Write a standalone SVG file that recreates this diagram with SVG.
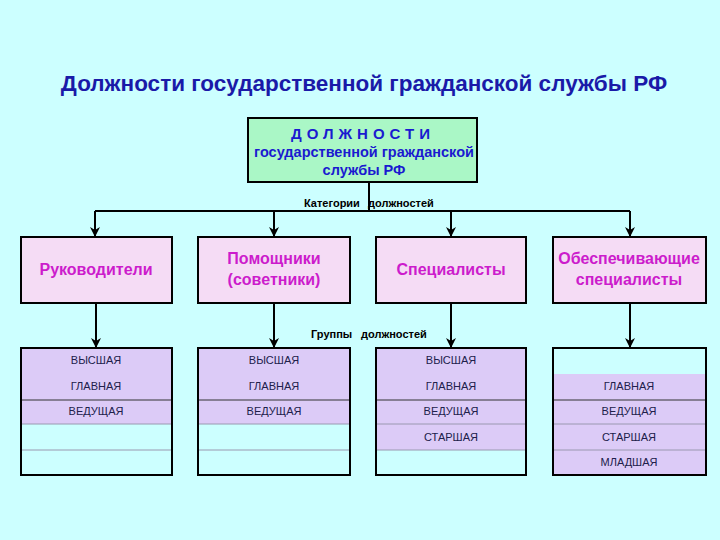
<svg xmlns="http://www.w3.org/2000/svg" width="720" height="540" viewBox="0 0 720 540">
<defs>
<marker id="arr" markerWidth="10" markerHeight="10" refX="9" refY="5" orient="auto" markerUnits="userSpaceOnUse">
<path d="M0,0 L10,5 L0,10 L3,5 Z" fill="#000"/>
</marker>
<style>
.title{font-family:"Liberation Sans",Arial,sans-serif;font-weight:bold;font-size:22.5px;fill:#1a1aa8;text-anchor:middle}
.top{font-family:"Liberation Sans",Arial,sans-serif;font-weight:bold;fill:#1a1ad0;text-anchor:middle}
.cat{fill:#f5dcf5;stroke:#000;stroke-width:2}
.cattxt{font-family:"Liberation Sans",Arial,sans-serif;font-weight:bold;font-size:16px;fill:#cc1ccc;text-anchor:middle}
.lbl{font-family:"Liberation Sans",Arial,sans-serif;font-weight:bold;font-size:11px;fill:#000}
.grp{font-family:"Liberation Sans",Arial,sans-serif;font-size:11px;fill:#20204a;text-anchor:middle}
.lav{fill:#dccbf7}
.sep{stroke:#9a98b0;stroke-width:1}
.sepd{stroke:#333;stroke-width:1}
.frame{fill:none;stroke:#000;stroke-width:2}
.conn{stroke:#000;stroke-width:2;fill:none}
</style>
</defs>
<rect width="720" height="540" fill="#ccffff"/>
<text class="title" x="364" y="91">Должности государственной гражданской службы РФ</text>

<g id="root">
<rect x="248" y="118" width="229" height="64" fill="#aaf7c6" stroke="#000" stroke-width="2"/>
<text class="top" x="363" y="139" font-size="15" letter-spacing="5">ДОЛЖНОСТИ</text>
<text class="top" x="364" y="157" font-size="14.5">государственной гражданской</text>
<text class="top" x="364" y="175" font-size="14.5">службы РФ</text>
</g>

<g id="connectors">
<path class="conn" d="M369,182 V211"/>
<path class="conn" d="M95,211 H630"/>
<path class="conn" d="M95,211 V236" marker-end="url(#arr)"/>
<path class="conn" d="M274,211 V236" marker-end="url(#arr)"/>
<path class="conn" d="M451,211 V236" marker-end="url(#arr)"/>
<path class="conn" d="M630,211 V236" marker-end="url(#arr)"/>
<path class="conn" d="M96,303 V347" marker-end="url(#arr)"/>
<path class="conn" d="M274,303 V347" marker-end="url(#arr)"/>
<path class="conn" d="M451,303 V347" marker-end="url(#arr)"/>
<path class="conn" d="M630,303 V347" marker-end="url(#arr)"/>
<text class="lbl" x="304" y="207">Категории</text>
<text class="lbl" x="368" y="207">должностей</text>
<text class="lbl" x="311" y="338">Группы</text>
<text class="lbl" x="361" y="338">должностей</text>
</g>

<g id="cat1"><rect class="cat" x="21" y="237" width="151" height="66"/><text class="cattxt" x="96" y="275">Руководители</text></g>
<g id="cat2"><rect class="cat" x="198" y="237" width="152" height="66"/><text class="cattxt" x="274" y="264">Помощники</text><text class="cattxt" x="274" y="285">(советники)</text></g>
<g id="cat3"><rect class="cat" x="376" y="237" width="150" height="66"/><text class="cattxt" x="451" y="275">Специалисты</text></g>
<g id="cat4"><rect class="cat" x="553" y="237" width="153" height="66"/><text class="cattxt" x="629" y="264">Обеспечивающие</text><text class="cattxt" x="629" y="285">специалисты</text></g>

<g id="grp1">
<rect class="lav" x="21" y="348" width="151" height="76"/>
<line class="sepd" x1="21" y1="400" x2="172" y2="400"/>
<line class="sep" x1="21" y1="424" x2="172" y2="424"/>
<line class="sep" x1="21" y1="450" x2="172" y2="450"/>
<rect class="frame" x="21" y="348" width="151" height="127"/>
<text class="grp" x="96" y="364">ВЫСШАЯ</text>
<text class="grp" x="96" y="390">ГЛАВНАЯ</text>
<text class="grp" x="96" y="415">ВЕДУЩАЯ</text>
</g>

<g id="grp2">
<rect class="lav" x="198" y="348" width="152" height="76"/>
<line class="sepd" x1="198" y1="400" x2="350" y2="400"/>
<line class="sep" x1="198" y1="424" x2="350" y2="424"/>
<line class="sep" x1="198" y1="450" x2="350" y2="450"/>
<rect class="frame" x="198" y="348" width="152" height="127"/>
<text class="grp" x="274" y="364">ВЫСШАЯ</text>
<text class="grp" x="274" y="390">ГЛАВНАЯ</text>
<text class="grp" x="274" y="415">ВЕДУЩАЯ</text>
</g>

<g id="grp3">
<rect class="lav" x="376" y="348" width="150" height="102"/>
<line class="sepd" x1="376" y1="400" x2="526" y2="400"/>
<line class="sep" x1="376" y1="424" x2="526" y2="424"/>
<line class="sep" x1="376" y1="450" x2="526" y2="450"/>
<rect class="frame" x="376" y="348" width="150" height="127"/>
<text class="grp" x="451" y="364">ВЫСШАЯ</text>
<text class="grp" x="451" y="390">ГЛАВНАЯ</text>
<text class="grp" x="451" y="415">ВЕДУЩАЯ</text>
<text class="grp" x="451" y="441">СТАРШАЯ</text>
</g>

<g id="grp4">
<rect class="lav" x="553" y="374" width="153" height="101"/>
<line class="sepd" x1="553" y1="400" x2="706" y2="400"/>
<line class="sep" x1="553" y1="424" x2="706" y2="424"/>
<line class="sep" x1="553" y1="450" x2="706" y2="450"/>
<rect class="frame" x="553" y="348" width="153" height="127"/>
<text class="grp" x="629" y="390">ГЛАВНАЯ</text>
<text class="grp" x="629" y="415">ВЕДУЩАЯ</text>
<text class="grp" x="629" y="441">СТАРШАЯ</text>
<text class="grp" x="629" y="466">МЛАДШАЯ</text>
</g>
</svg>
